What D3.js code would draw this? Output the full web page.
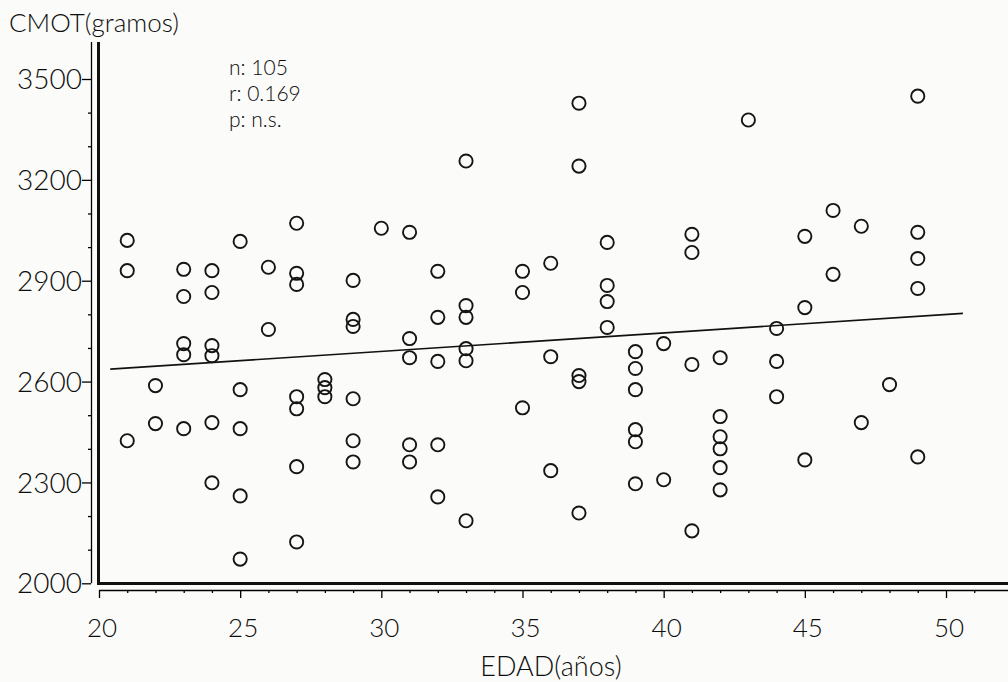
<!DOCTYPE html>
<html>
<head>
    <title>CMOT vs EDAD</title>
    <meta charset="utf-8">
    <style>
        body { margin: 0; background: #fbfbf9; }
        svg { display: block; background: #fbfbf9; }
        text {
            font-family: "Lato", "Open Sans", "DejaVu Sans", sans-serif;
            font-weight: 300;
            fill: #0d0d0d;
        }
        .axisThick { stroke: #111; stroke-width: 3px; }
        circle.point { fill: none; stroke: #151515; stroke-width: 1.9px; }
        line.regression { stroke: #111; stroke-width: 1.6px; }
    </style>
    <script src="https://cdn.jsdelivr.net/npm/d3@7"></script>
</head>
<body>
    <svg width="1008" height="682"></svg>
    <script>
        // Age (years) of each subject
        var ages = [
            21, 21, 21, 22, 22, 23, 23, 23, 23, 23,
            24, 24, 24, 24, 24, 24, 25, 25, 25, 25,
            25, 26, 26, 27, 27, 27, 27, 27, 27, 27,
            28, 28, 28, 29, 29, 29, 29, 29, 29, 30,
            31, 31, 31, 31, 31, 32, 32, 32, 32, 32,
            33, 33, 33, 33, 33, 33, 35, 35, 35, 36,
            36, 36, 37, 37, 37, 37, 37, 38, 38, 38,
            38, 39, 39, 39, 39, 39, 39, 40, 40, 41,
            41, 41, 41, 43, 42, 42, 42, 42, 42, 42,
            44, 44, 44, 45, 45, 45, 46, 46, 47, 47,
            48, 49, 49, 49, 49, 49
        ];

        // CMOT (grams), same order as ages
        var weights = [
            3020, 2930, 2424, 2588, 2475, 2934, 2853, 2713, 2680, 2460,
            2930, 2865, 2707, 2677, 2478, 2299, 3017, 2576, 2460, 2260,
            2072, 2940, 2755, 3071, 2922, 2889, 2555, 2519, 2347, 2123,
            2606, 2582, 2555, 2901, 2785, 2764, 2549, 2424, 2361, 3056,
            3044, 2728, 2671, 2412, 2361, 2928, 2791, 2660, 2412, 2257,
            3256, 2826, 2791, 2698, 2662, 2186, 2928, 2865, 2522, 2952,
            2674, 2335, 3428, 3241, 2618, 2600, 2209, 3014, 2886, 2838,
            2761, 2689, 2639, 2576, 2457, 2421, 2296, 2713, 2308, 3038,
            2984, 2651, 2156, 3378, 2671, 2496, 2436, 2400, 2344, 2278,
            2758, 2660, 2555, 3032, 2820, 2367, 3109, 2919, 3062, 2478,
            2591, 3449, 3044, 2966, 2877, 2376
        ];

        var xTicks = [20, 25, 30, 35, 40, 45, 50];
        var yTicks = [2000, 2300, 2600, 2900, 3200, 3500];
        var statsLines = ["n: 105", "r: 0.169", "p: n.s."];

        // regression line end points (age, grams)
        var regAges = [20.4, 50.6];
        var regWeights = [2637, 2803];

        var svg = d3.select("svg");
        var width = +svg.attr("width"), height = +svg.attr("height");

        var x = d3.scaleLinear().domain([20, 50]).range([99, 946]);
        var y = d3.scaleLinear().domain([2000, 3500]).range([583.3, 79]);

        var axisY = 583.5, axisX = 98.5;
        var rulerY = 590, rulerX = 91;

        // thick frame axes
        svg.append("line").attr("class", "axisThick")
            .attr("x1", axisX).attr("x2", axisX).attr("y1", 42).attr("y2", axisY + 1.5);
        svg.append("line").attr("class", "axisThick")
            .attr("x1", axisX - 1.5).attr("x2", width).attr("y1", axisY).attr("y2", axisY);

        // y ruler: thin line with ticks every 100 g, pointing left
        var yRuler = svg.append("g").attr("transform", "translate(" + rulerX + ",0)")
            .call(d3.axisLeft(y).tickValues(d3.range(2000, 3501, 100)).tickFormat("").tickSize(3).tickSizeOuter(0));
        yRuler.select(".domain").attr("d", "M0.5,42V" + y(2000)).attr("stroke-width", 1.3);
        yRuler.selectAll(".tick line").attr("stroke-width", 1.3)
            .attr("x2", function (d) { return (yTicks.indexOf(d) >= 0) ? -9 : -3; });

        // x ruler: thin line with ticks every year, pointing down
        var xRuler = svg.append("g").attr("transform", "translate(0," + rulerY + ")")
            .call(d3.axisBottom(x).tickValues(d3.range(20, 52)).tickFormat("").tickSize(3).tickSizeOuter(0));
        xRuler.select(".domain").attr("d", "M" + x(20) + ",0.5H" + width).attr("stroke-width", 1.3);
        xRuler.selectAll(".tick line").attr("stroke-width", 1.3)
            .attr("y2", function (d) { return (d % 5 == 0) ? 8 : 3; });

        // tick labels
        svg.append("g").selectAll("text")
            .data(yTicks)
            .enter().append("text")
            .attr("x", 82)
            .attr("y", function (d) { return y(d); })
            .attr("dy", "0.36em")
            .attr("text-anchor", "end")
            .style("font-size", "28px")
            .text(function (d) { return d; });

        svg.append("g").selectAll("text")
            .data(xTicks)
            .enter().append("text")
            .attr("x", function (d) { return x(d) + 3; })
            .attr("y", 637)
            .attr("text-anchor", "middle")
            .style("font-size", "26px")
            .text(function (d) { return d; });

        // axis titles
        svg.append("text").attr("x", 9).attr("y", 32)
            .style("font-size", "26px").text("CMOT(gramos)");
        svg.append("text").attr("x", 551).attr("y", 676)
            .attr("text-anchor", "middle")
            .style("font-size", "27px").text("EDAD(años)");

        // stats block
        svg.append("g").selectAll("text")
            .data(statsLines)
            .enter().append("text")
            .attr("x", 229)
            .attr("y", function (d, i) { return 75 + i * 26; })
            .style("font-size", "21px")
            .text(function (d) { return d; });

        // regression line
        svg.append("line").attr("class", "regression")
            .attr("x1", x(regAges[0])).attr("y1", y(regWeights[0]))
            .attr("x2", x(regAges[1])).attr("y2", y(regWeights[1]));

        // points
        svg.append("g").selectAll("circle")
            .data(ages)
            .enter().append("circle")
            .attr("class", "point")
            .attr("r", 6.6)
            .attr("cx", function (d) { return x(d); })
            .attr("cy", function (d, i) { return y(weights[i]); });
    </script>
</body>
</html>
